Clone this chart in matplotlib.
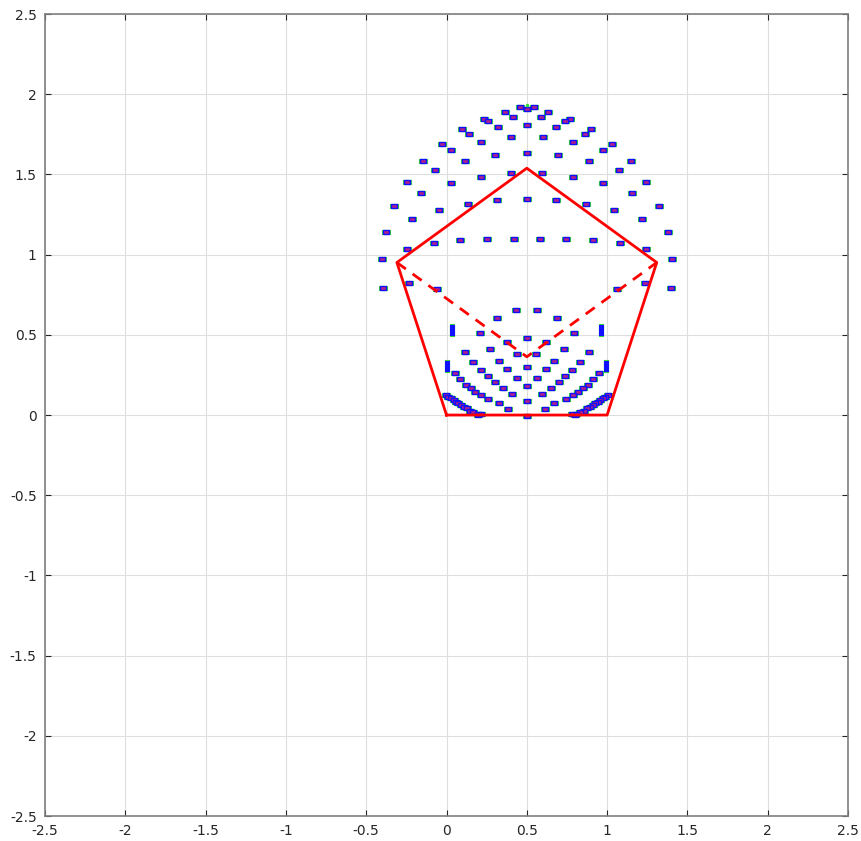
import numpy as np
import matplotlib.pyplot as plt
from matplotlib.ticker import FormatStrFormatter

"""pentagon outline and the dashed diagonals"""
pent_x = [0, 1, 1.309, 0.5, -0.309, 0]
pent_y = [0, 0, 0.951, 1.539, 0.951, 0]
diag_x = [-0.309, 0.5, 1.309]
diag_y = [0.951, 0.363, 0.951]

"""upper cloud of points (left half, centre line, right half)"""
up_x = [0.455, 0.366, 0.412, 0.233, 0.260, 0.320, 0.098, 0.139, 0.399, 0.212,
        -0.031, 0.025, 0.304, -0.148, 0.112, -0.073, 0.404, 0.212, -0.245, 0.025,
        -0.156, 0.316, 0.133, -0.324, -0.044, -0.216, -0.376, -0.245, -0.079, 0.087,
        0.254, 0.420, -0.401, -0.235, -0.062, -0.397,
        0.5, 0.5, 0.5, 0.5,
        0.545, 0.634, 0.588, 0.767, 0.740, 0.680, 0.902, 0.861, 0.601, 0.788,
        1.031, 0.975, 0.696, 1.148, 0.888, 1.073, 0.596, 0.788, 1.245, 0.975,
        1.156, 0.684, 0.867, 1.324, 1.044, 1.216, 1.376, 1.245, 1.079, 0.913,
        0.746, 0.580, 1.401, 1.235, 1.062, 1.397]
up_y = [1.923, 1.888, 1.859, 1.847, 1.834, 1.795, 1.782, 1.755, 1.734, 1.705,
        1.692, 1.655, 1.622, 1.583, 1.586, 1.530, 1.508, 1.487, 1.452, 1.445,
        1.385, 1.339, 1.316, 1.306, 1.277, 1.221, 1.143, 1.036, 1.073, 1.094,
        1.098, 1.096, 0.973, 0.823, 0.788, 0.792,
        1.907, 1.807, 1.633, 1.347,
        1.923, 1.888, 1.859, 1.847, 1.834, 1.795, 1.782, 1.755, 1.734, 1.705,
        1.692, 1.655, 1.622, 1.583, 1.586, 1.530, 1.508, 1.487, 1.452, 1.445,
        1.385, 1.339, 1.316, 1.306, 1.277, 1.221, 1.143, 1.036, 1.073, 1.094,
        1.098, 1.096, 0.973, 0.823, 0.788, 0.792]

"""lower cloud of points inside the pentagon"""
low_x = [0.435, 0.312, 0.206, 0.379, 0.114, 0.270, 0.440, 0.168, 0.328, 0.216,
         0.379, 0.050, 0.260, 0.437, 0.087, 0.301, 0.119, 0.150, 0.351, 0.179,
         0.212, 0.405, 0.258, 0.328, 0.385, 0.199,
         0.5, 0.5, 0.5, 0.5, 0.5,
         0.565, 0.688, 0.794, 0.621, 0.886, 0.730, 0.560, 0.832, 0.672, 0.784,
         0.621, 0.950, 0.740, 0.563, 0.913, 0.699, 0.881, 0.850, 0.649, 0.821,
         0.788, 0.595, 0.742, 0.672, 0.615, 0.801]
low_y = [0.653, 0.605, 0.513, 0.455, 0.395, 0.412, 0.379, 0.331, 0.339, 0.281,
         0.285, 0.260, 0.241, 0.233, 0.223, 0.206, 0.187, 0.167, 0.167, 0.145,
         0.125, 0.129, 0.100, 0.075, 0.037, -0.002,
         0.483, 0.301, 0.181, 0.087, -0.004,
         0.653, 0.605, 0.513, 0.455, 0.395, 0.412, 0.379, 0.331, 0.339, 0.281,
         0.285, 0.260, 0.241, 0.233, 0.223, 0.206, 0.187, 0.167, 0.167, 0.145,
         0.125, 0.129, 0.100, 0.075, 0.037, -0.002]

"""dense chains along the base corners"""
chain_x = [-0.003, 0.012, 0.028, 0.045, 0.059, 0.074, 0.091, 0.108, 0.126, 0.147, 0.168, 0.195, 0.216,
           1.003, 0.988, 0.972, 0.955, 0.941, 0.926, 0.909, 0.892, 0.874, 0.853, 0.832, 0.805, 0.784]
chain_y = [0.125, 0.114, 0.104, 0.094, 0.083, 0.073, 0.062, 0.052, 0.042, 0.027, 0.017, 0.004, 0.004,
           0.125, 0.114, 0.104, 0.094, 0.083, 0.073, 0.062, 0.052, 0.042, 0.027, 0.017, 0.004, 0.004]

"""points drawn as tall bars"""
bar_x = [0.036, 0.004, 0.964, 0.996]
bar_y = [0.530, 0.308, 0.530, 0.308]

"""tiny green dot at the very top"""
top_x = [0.5]
top_y = [1.936]

ticks = np.arange(-2.5, 2.51, 0.5)

fig = plt.figure(figsize=(8.62, 8.41), dpi=100)
ax = fig.add_axes([0.0522, 0.0297, 0.9316, 0.9536])
plt.rcParams['font.family'] = ['Liberation Sans', 'DejaVu Sans']

hbox = [(-1, -0.5), (1, -0.5), (1, 0.5), (-1, 0.5), (-1, -0.5)]
vbox = [(-0.35, -1), (0.35, -1), (0.35, 1), (-0.35, 1), (-0.35, -1)]

px = up_x + low_x + chain_x
py = up_y + low_y + chain_y
ax.plot(px, py, ls='none', marker=hbox, ms=6, mfc='#33dd33', mec='#33dd33', mew=0.8, zorder=3)
ax.plot(px, py, ls='none', marker=hbox, ms=4.6, mfc='#b0208a', mec='#1010ff', mew=1.0, zorder=4)
ax.plot(bar_x, bar_y, ls='none', marker=vbox, ms=8.5, mfc='#33dd33', mec='#33dd33', mew=0.8, zorder=3)
ax.plot(bar_x, bar_y, ls='none', marker=vbox, ms=7.5, mfc='#1010ff', mec='#1010ff', mew=0.8, zorder=4)
ax.plot(top_x, top_y, ls='none', marker='.', ms=3, color='#33dd33', zorder=4)

ax.plot(pent_x, pent_y, color='red', lw=2.0, zorder=5)
ax.plot(diag_x, diag_y, color='red', lw=2.0, ls=(0, (4, 3)), zorder=5)

ax.set_xlim(-2.5, 2.5)
ax.set_ylim(-2.5, 2.5)
ax.set_xticks(ticks)
ax.set_yticks(ticks)
ax.xaxis.set_major_formatter(FormatStrFormatter('%g'))
ax.yaxis.set_major_formatter(FormatStrFormatter('%g'))
ax.grid(True, color='#dedede', lw=0.8)
ax.set_axisbelow(True)
ax.tick_params(direction='in', length=4, width=0.8, color='#262626', pad=6,
               labelsize=10, labelcolor='#262626', top=True, right=True)
for s in ax.spines.values():
    s.set_color('#808080')
    s.set_linewidth(1.2)

plt.savefig('out.png', dpi=100)
